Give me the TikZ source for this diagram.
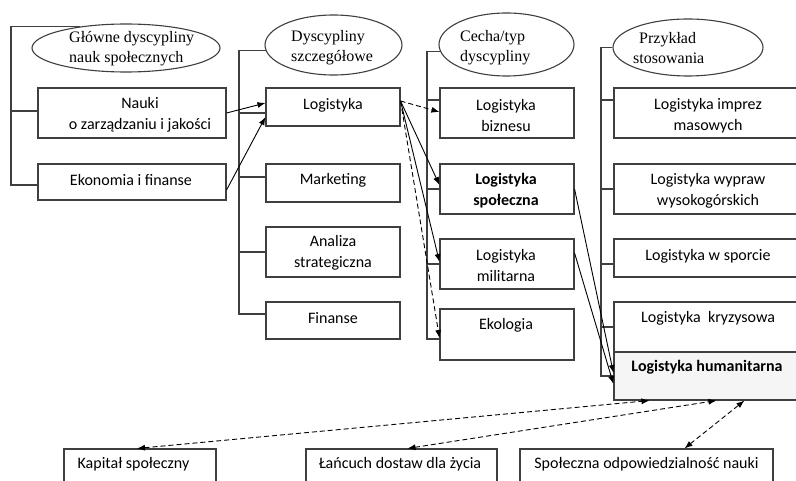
\documentclass[tikz,border=0pt]{standalone}
\usepackage{fontspec}
\setmainfont{Carlito}
\newfontfamily\headfont{Liberation Serif}
\usetikzlibrary{shapes.geometric,arrows.meta,calc}
\definecolor{framegray}{HTML}{3F3F3F}
\definecolor{softfill}{HTML}{F5F5F5}

\begin{document}
\begin{tikzpicture}[x=1pt,y=-1pt,
  box/.style={draw=framegray, line width=1.1pt, rectangle, inner sep=0pt},
  oval/.style={draw=framegray, line width=1.1pt, ellipse, inner sep=0pt},
  rail/.style={draw=framegray, line width=1.1pt},
  head/.style={font=\headfont\fontsize{16}{20}\selectfont, align=left, inner sep=0pt, anchor=west},
  txt/.style={font=\fontsize{16}{21}\selectfont, align=center, inner sep=0pt},
  link/.style={-{Latex[length=8pt,width=6pt]}, line width=0.9pt, draw=black},
  dlink/.style={link, dash pattern=on 5pt off 3pt},
  twoway/.style={{Latex[length=8pt,width=6pt]}-{Latex[length=8pt,width=6pt]}, line width=0.9pt, draw=black, dash pattern=on 5pt off 3pt}
]
\useasboundingbox (0,0) rectangle (796,481);
\clip (0,0) rectangle (796,481);

% column rails
\coordinate (rail1) at (11,0);
\coordinate (rail2) at (239,0);
\coordinate (rail3) at (427,0);
\coordinate (rail4) at (601,0);

% column headings
\node[oval, minimum width=188pt, minimum height=48pt] (ell1) at (126,48) {};
\node[head] (h1) at (69,49) {Główne dyscypliny\\nauk społecznych};
\node[oval, minimum width=137pt, minimum height=60pt] (ell2) at (333.5,45) {};
\node[head] (h2) at (291,48) {Dyscypliny\\szczegółowe};
\node[oval, minimum width=135pt, minimum height=63pt] (ell3) at (506.5,44.5) {};
\node[head] (h3) at (460,48) {Cecha/typ\\dyscypliny};
\node[oval, minimum width=150pt, minimum height=57pt] (ell4) at (688,47.5) {};
\node[head] (h4) at (633,48) {\hspace*{6pt}Przykład\\stosowania};

% column 1
\node[box, minimum width=188pt, minimum height=50pt] (nauki) at (132,113) {};
\node[txt] (t-nauki) at (140,115) {Nauki\\o zarządzaniu i jakości};
\node[box, minimum width=188pt, minimum height=36pt] (ekonomia) at (132,182) {};
\node[txt] (t-ekonomia) at (131,180) {Ekonomia i finanse};

% column 2
\node[box, minimum width=134pt, minimum height=38pt] (logistyka) at (333,107) {};
\node[txt] (t-logistyka) at (333,105) {Logistyka};
\node[box, minimum width=134pt, minimum height=38pt] (marketing) at (333,183) {};
\node[txt] (t-marketing) at (333,180) {Marketing};
\node[box, minimum width=134pt, minimum height=50pt] (analiza) at (333,252) {};
\node[txt] (t-analiza) at (333,253) {Analiza\\strategiczna};
\node[box, minimum width=134pt, minimum height=37pt] (finanse) at (333,320.5) {};
\node[txt] (t-finanse) at (333,318) {Finanse};

% column 3
\node[box, minimum width=134pt, minimum height=50pt] (biznesu) at (507,113) {};
\node[txt] (t-biznesu) at (506,116) {Logistyka\\biznesu};
\node[box, minimum width=134pt, minimum height=50pt] (spoleczna) at (507,189) {};
\node[txt, font=\bfseries\fontsize{16}{21}\selectfont] (t-spoleczna) at (506,191) {Logistyka\\społeczna};
\node[box, minimum width=134pt, minimum height=50pt] (militarna) at (507,264) {};
\node[txt] (t-militarna) at (506,266) {Logistyka\\militarna};
\node[box, minimum width=134pt, minimum height=51pt] (ekologia) at (507,334.5) {};
\node[txt] (t-ekologia) at (506,325) {Ekologia};

% column 4
\node[box, minimum width=192pt, minimum height=50pt] (imprez) at (710,113) {};
\node[txt] (t-imprez) at (708,116) {Logistyka imprez\\masowych};
\node[box, minimum width=192pt, minimum height=50pt] (wypraw) at (710,189) {};
\node[txt] (t-wypraw) at (708,191) {Logistyka wypraw\\wysokogórskich};
\node[box, minimum width=192pt, minimum height=38pt] (sporcie) at (710,258) {};
\node[txt] (t-sporcie) at (708,256) {Logistyka w sporcie};
\node[box, minimum width=192pt, minimum height=50pt] (kryzysowa) at (710,327) {};
\node[txt] (t-kryzysowa) at (708,318) {Logistyka\ \ kryzysowa};
\node[box, fill=softfill, minimum width=192pt, minimum height=48pt] (humanitarna) at (710,376) {};
\node[txt, font=\bfseries\fontsize{16}{21}\selectfont] (t-humanitarna) at (707,367) {Logistyka humanitarna};

% bottom row
\node[box, minimum width=152pt, minimum height=46pt] (kapital) at (140,472) {};
\node[txt] (t-kapital) at (133.5,464) {Kapitał społeczny};
\node[box, minimum width=191pt, minimum height=46pt] (lancuch) at (401.5,472) {};
\node[txt] (t-lancuch) at (400,464) {Łańcuch dostaw dla życia};
\node[box, minimum width=253pt, minimum height=46pt] (odp) at (646.5,472) {};
\node[txt] (t-odp) at (646.5,464) {Społeczna odpowiedzialność nauki};

% rails and ticks, column 1
\draw[rail] (ell1.155) -| ([yshift=-3pt]ekonomia.west -| rail1) -- ([yshift=-3pt]ekonomia.west);
\draw[rail] ([yshift=2pt]nauki.west -| rail1) -- ([yshift=2pt]nauki.west);

% rails and ticks, column 2
\draw[rail] (ell2.185) -| ([yshift=6.5pt]finanse.west -| rail2) -- ([yshift=6.5pt]finanse.west);
\draw[rail] ([yshift=-6pt]logistyka.west -| rail2) -- ([yshift=-6pt]logistyka.west);
\draw[rail] ([yshift=6pt]marketing.west -| rail2) -- ([yshift=6pt]marketing.west);
\draw[rail] (analiza.west -| rail2) -- (analiza.west);

% rails and ticks, column 3
\draw[rail] (ell3.186) -| ([yshift=-4.5pt]ekologia.west -| rail3) -- ([yshift=-4.5pt]ekologia.west);
\draw[rail] ([yshift=13pt]biznesu.west -| rail3) -- ([yshift=13pt]biznesu.west);
\draw[rail] (spoleczna.west -| rail3) -- (spoleczna.west);
\draw[rail] (militarna.west -| rail3) -- (militarna.west);

% rails and ticks, column 4
\draw[rail] (ell4.west) -| (humanitarna.west -| rail4) -- (humanitarna.west);
\draw[rail] ([yshift=13pt]imprez.west -| rail4) -- ([yshift=13pt]imprez.west);
\draw[rail] (wypraw.west -| rail4) -- (wypraw.west);
\draw[rail] ([yshift=-6pt]sporcie.west -| rail4) -- ([yshift=-6pt]sporcie.west);
\draw[rail] (kryzysowa.west -| rail4) -- (kryzysowa.west);

% links into the discipline column
\draw[link] (nauki.east) -- ([yshift=4pt]logistyka.west);
\draw[link] ([yshift=-8pt]ekonomia.east) -- ([yshift=-10pt]logistyka.west);

% links from logistics to its kinds
\draw[dlink] ([yshift=6pt]logistyka.east) -- ([yshift=1pt]biznesu.west);
\draw[link] ([yshift=6pt]logistyka.east) -- ([yshift=4pt]spoleczna.west);
\draw[link] ([yshift=6pt]logistyka.east) -- ([yshift=2pt]militarna.west);
\draw[dlink] ([yshift=6pt]logistyka.east) -- ([yshift=-3.5pt]ekologia.west);

% links into humanitarian logistics
\draw[link] (spoleczna.east) -- ([yshift=3pt]humanitarna.west);
\draw[link] ([yshift=11pt]militarna.east) -- ([yshift=-8pt]humanitarna.west);

% two-way links to the bottom row
\draw[twoway] ([xshift=-3pt]kapital.north) -- ([xshift=36pt]humanitarna.south west);
\draw[twoway] ([xshift=6pt]lancuch.north) -- ([xshift=103pt]humanitarna.south west);
\draw[twoway] ([xshift=38pt]odp.north) -- ([xshift=131pt]humanitarna.south west);
\end{tikzpicture}
\end{document}
